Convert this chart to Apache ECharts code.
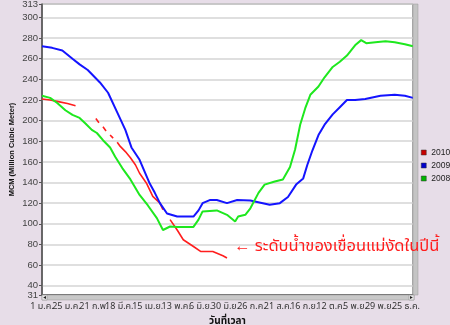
<!DOCTYPE html>
<html><head><meta charset="utf-8">
<script src="https://cdn.jsdelivr.net/npm/echarts@6/dist/echarts.min.js"></script>
<style>html,body{margin:0;padding:0;background:#e7dde8}#c{width:450px;height:325px}</style>
</head><body><div id="c"></div>
<script>
// x tick positions (day of year, 0 = 1 Jan) and their labels
const tickDays = [0, 24, 51, 76, 104, 132, 156, 180, 206, 232, 258, 284, 308, 332, 358];
const tickLabels = ['1 ม.ค.', '25 ม.ค.', '21 ก.พ.', '18 มี.ค.', '15 เม.ย.', '13 พ.ค.', '6 มิ.ย.', '30 มิ.ย.', '26 ก.ค.', '21 ส.ค.', '16 ก.ย.', '12 ต.ค.', '5 พ.ย.', '29 พ.ย.', '25 ธ.ค.'];
const yTicks = [31, 40, 60, 80, 100, 120, 140, 160, 180, 200, 220, 240, 260, 280, 300, 313];
const seriesNames = ['2010', '2009', '2008'];

// 2010 (red) – null = gap in record
const days2010 = [0, 8, 16, 25, 33, 40, 53, 56, 58, 60, 63, 65, 67, 70, 72, 74, 77, 82, 87, 92, 96, 103, 109, 116, 119, 122, 126, 133, 139, 149, 156, 168, 178, 182];
const vals2010 = [221, 220, 218.4, 216.5, 214.3, null, 202, 198, null, 194, 190, null, 186, 183, null, 179, 175, 170, 164, 157, 149, 139, 126.5, 120, 113.6, null, 104, 94, 84.5, 78, 73.2, 73.2, 69, 66.8];

// 2009 (blue)
const days2009 = [0, 10, 20, 30, 37, 45, 57, 65, 74, 82, 88, 96, 106, 111, 116, 123, 133, 149, 154, 158, 165, 172, 182, 192, 205, 215, 224, 234, 242, 250, 257, 261, 266, 272, 278, 286, 293, 300, 308, 318, 333, 347, 357, 365];
const vals2009 = [272, 270.5, 268, 260, 254.5, 249, 237, 227, 208, 191, 174, 162, 139, 130, 120, 110, 107, 107, 113, 120, 123, 123, 120, 123, 122.6, 120.4, 118.4, 120, 126, 138, 144, 157, 171, 186, 196, 206, 213, 220, 220, 221, 224, 225, 224, 222];

// 2008 (green)
const days2008 = [0, 8, 15, 23, 30, 37, 43, 49, 54, 60, 67, 72, 79, 87, 96, 104, 113, 119, 126, 133, 149, 154, 158, 172, 182, 190, 193, 200, 205, 213, 219, 229, 237, 244, 249, 254, 259, 264, 272, 278, 286, 293, 300, 308, 314, 319, 328, 338, 347, 357, 365];
const vals2008 = [224, 222, 217, 210, 205.5, 202.6, 197, 191, 188, 181, 174, 165, 154, 143, 128, 118, 105.5, 94, 97.4, 97, 97, 104, 112, 113, 108.7, 102.3, 107, 108.7, 115, 130, 138, 141, 143, 155, 172, 196, 212, 225, 233, 242, 252, 257, 263, 273, 278, 275, 276, 277, 276, 274, 272];

const colors = ['#ff1e1e', '#1414ff', '#1ee81e'];
const legendColors = ['#c80000', '#0000cc', '#00b400'];
const pair = (d, v) => d.map((x, i) => [x, v[i] === null ? '-' : v[i]]);
const FONT = 'Tahoma, "Noto Sans Thai", "Liberation Sans", sans-serif';
const NUMFONT = '"Liberation Sans", Arial, sans-serif';
const xFmt = v => { const i = tickDays.indexOf(v); return i >= 0 ? tickLabels[i] : ''; };

// labels split over overlaid axes so that neighbouring labels are not auto-hidden
const xEven = tickDays.filter((d, i) => i % 2 === 0);
const xOdd = tickDays.filter((d, i) => i % 2 === 1);
const yEnds = [yTicks[0]];
const yInner = yTicks.slice(1);

const xLabelBase = {margin: 8, fontSize: 9, color: '#333', fontFamily: FONT, hideOverlap: false, showMinLabel: true, showMaxLabel: true, formatter: xFmt};
const yLabelBase = {margin: 4, fontSize: 9.5, color: '#444', fontFamily: NUMFONT, hideOverlap: false};

const chart = echarts.init(document.getElementById('c'), null, {renderer: 'canvas'});
chart.setOption({
  animation: false,
  backgroundColor: '#e7dde8',
  grid: {left: 42, right: 37, top: 4, bottom: 30, containLabel: false, outerBoundsMode: 'none',
    show: true, backgroundColor: '#fff', borderColor: '#555', borderWidth: 1},
  legend: {
    orient: 'vertical', left: 421, top: 148, padding: 0, itemWidth: 5, itemHeight: 5, itemGap: 4, icon: 'rect',
    textStyle: {fontSize: 8.5, color: '#222', fontFamily: NUMFONT},
    data: seriesNames.map((n, i) => ({name: n, itemStyle: {color: legendColors[i], borderColor: '#333', borderWidth: 0.5}}))
  },
  xAxis: [{
    type: 'value', min: 0, max: 365, position: 'bottom',
    name: 'วันที่เวลา', nameLocation: 'middle', nameGap: 21,
    nameTextStyle: {fontWeight: 'bold', fontSize: 10, color: '#111', fontFamily: FONT},
    axisLine: {show: true, lineStyle: {color: '#555', width: 1.5}},
    axisTick: {show: true, length: 5, customValues: tickDays, lineStyle: {color: '#555'}},
    axisLabel: Object.assign({customValues: xEven}, xLabelBase),
    splitLine: {show: false}
  }, {
    type: 'value', min: 0, max: 365, position: 'bottom', offset: 0,
    axisLine: {show: false}, axisTick: {show: false}, splitLine: {show: false},
    axisLabel: Object.assign({customValues: xOdd}, xLabelBase)
  }],
  yAxis: [{
    type: 'value', min: 31, max: 313, position: 'left',
    name: 'MCM (Million Cubic Meter)', nameLocation: 'middle', nameGap: 26, nameRotate: 90, nameMoveOverlap: false,
    nameTextStyle: {fontWeight: 'bold', fontSize: 7.5, color: '#111', fontFamily: NUMFONT},
    axisLine: {show: true, lineStyle: {color: '#555', width: 1.5}},
    axisTick: {show: true, length: 3, customValues: yTicks, lineStyle: {color: '#555'}},
    axisLabel: Object.assign({customValues: yInner}, yLabelBase),
    splitLine: {show: true, lineStyle: {color: '#d4d4d4', width: 1.5}}
  }, {
    type: 'value', min: 31, max: 313, position: 'left', offset: 0,
    axisLine: {show: false}, axisTick: {show: false}, splitLine: {show: false},
    axisLabel: Object.assign({customValues: yEnds}, yLabelBase)
  }],
  series: [
    {name: seriesNames[0], type: 'line', data: pair(days2010, vals2010), showSymbol: false, symbol: 'none', connectNulls: false, color: colors[0], lineStyle: {width: 1.6}},
    {name: seriesNames[1], type: 'line', data: pair(days2009, vals2009), showSymbol: false, symbol: 'none', color: colors[1], lineStyle: {width: 2}},
    {name: seriesNames[2], type: 'line', data: pair(days2008, vals2008), showSymbol: false, symbol: 'none', color: colors[2], lineStyle: {width: 2}}
  ],
  graphic: [
    // horizontal scrollbar
    {type: 'rect', shape: {x: 42, y: 295, width: 372, height: 5}, style: {fill: '#c8c8c8', stroke: '#9a9a9a', lineWidth: 0.5}, z: 100},
    {type: 'rect', shape: {x: 42, y: 295, width: 5, height: 5}, style: {fill: '#e8e8e8', stroke: '#888', lineWidth: 0.5}, z: 101},
    {type: 'rect', shape: {x: 409, y: 295, width: 5, height: 5}, style: {fill: '#e8e8e8', stroke: '#888', lineWidth: 0.5}, z: 101},
    {type: 'polygon', shape: {points: [[43.2, 297.5], [46, 296], [46, 299]]}, style: {fill: '#222'}, z: 102},
    {type: 'polygon', shape: {points: [[412.8, 297.5], [410, 296], [410, 299]]}, style: {fill: '#222'}, z: 102},
    // vertical scrollbar
    {type: 'rect', shape: {x: 413, y: 4, width: 5, height: 291}, style: {fill: '#c4c4c4', stroke: '#9a9a9a', lineWidth: 0.5}, z: 100},
    // annotation
    {type: 'text', left: 234, top: 239, style: {text: '← ระดับน้ำของเขื่อนแม่งัดในปีนี้', fill: '#ff1e1e', fontSize: 16.5, fontFamily: FONT}, z: 110}
  ]
});
</script></body></html>
